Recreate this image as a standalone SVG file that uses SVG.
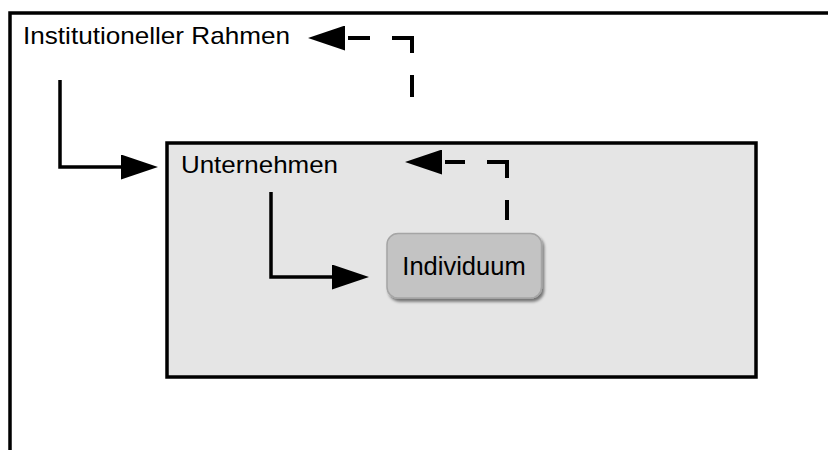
<svg xmlns="http://www.w3.org/2000/svg" width="828" height="450" viewBox="0 0 828 450">
  <defs>
    <style>
      .lbl { font-family: "Liberation Sans", Arial, sans-serif; fill: #000; }
      .solid { fill: none; stroke: #000; stroke-width: 3.5; stroke-linejoin: miter; }
      .dash { fill: none; stroke: #000; stroke-width: 4; stroke-linejoin: miter; }
    </style>
    <marker id="ah" markerUnits="userSpaceOnUse" viewBox="0 0 37 25" refX="1" refY="12.5" markerWidth="37" markerHeight="25" orient="auto">
      <path d="M0,0 L37,12.5 L0,25 Z" fill="#000"/>
    </marker>
    <marker id="ahd" markerUnits="userSpaceOnUse" viewBox="-3 0 40 25" refX="-3" refY="12.5" markerWidth="40" markerHeight="25" orient="auto">
      <path d="M0,0 L37,12.5 L0,25 Z" fill="#000"/>
    </marker>
    <filter id="sh" x="-10%" y="-10%" width="130%" height="140%">
      <feGaussianBlur in="SourceAlpha" stdDeviation="1.5"/>
      <feOffset dx="1.5" dy="2.5" result="b"/>
      <feComponentTransfer><feFuncA type="linear" slope="0.5"/></feComponentTransfer>
      <feMerge><feMergeNode/><feMergeNode in="SourceGraphic"/></feMerge>
    </filter>
  </defs>
  <rect width="828" height="450" fill="#fff"/>

  <g id="institutioneller-rahmen">
    <rect x="10" y="13" width="840" height="460" fill="#fff" stroke="#000" stroke-width="3.5"/>
    <text class="lbl" x="23" y="44" font-size="24" textLength="267" lengthAdjust="spacingAndGlyphs">Institutioneller Rahmen</text>
  </g>

  <g id="unternehmen">
    <rect x="167" y="143" width="589" height="234" fill="#e5e5e5" stroke="#000" stroke-width="3.5"/>
    <text class="lbl" x="181" y="173" font-size="24" textLength="157" lengthAdjust="spacingAndGlyphs">Unternehmen</text>
  </g>

  <g id="individuum">
    <rect x="387" y="233.5" width="154.5" height="64.5" rx="11" ry="11" fill="#c3c3c3" stroke="#a5a5a5" stroke-width="1.5" filter="url(#sh)"/>
    <text class="lbl" x="464" y="275" font-size="25.5" text-anchor="middle">Individuum</text>
  </g>

  <g id="connectors">
    <path class="solid" d="M60,80 V167 H122" marker-end="url(#ah)"/>
    <path class="solid" d="M271,192 V277 H333" marker-end="url(#ah)"/>
    <path class="dash" d="M507,220 V200 M507,178 V162 H487 M465,162 H445" marker-end="url(#ahd)"/>
    <path class="dash" d="M412,97 V75 M412,53 V38 H392 M370,38 H348" marker-end="url(#ahd)"/>
  </g>
</svg>
